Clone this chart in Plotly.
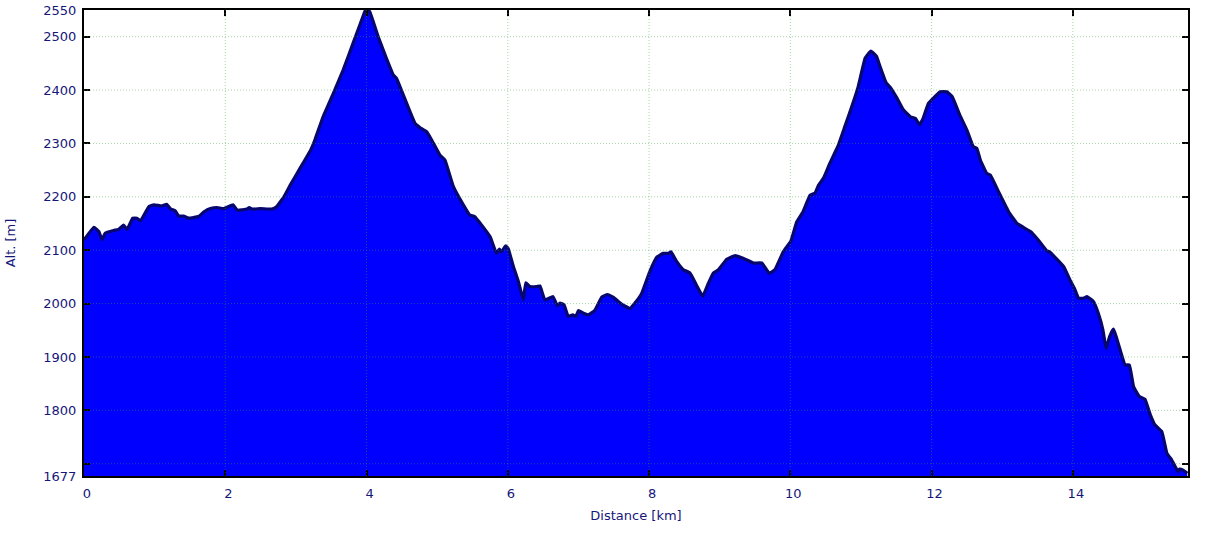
import plotly.graph_objects as go

distance_km = [0.00, 0.14, 0.21, 0.255, 0.30, 0.42, 0.49, 0.56, 0.61, 0.69, 0.75, 0.80, 0.92, 0.99,
               1.10, 1.17, 1.23, 1.29, 1.34, 1.41, 1.48, 1.62, 1.70, 1.79, 1.88, 1.98, 2.11, 2.17,
               2.31, 2.34, 2.38, 2.50, 2.66, 2.73, 2.83, 2.92, 3.07, 3.21, 3.27, 3.385, 3.53, 3.67,
               3.81, 3.905, 3.975, 4.00, 4.045, 4.165, 4.28, 4.38, 4.425, 4.52, 4.685, 4.755, 4.85,
               4.92, 5.04, 5.11, 5.23, 5.37, 5.46, 5.53, 5.63, 5.75, 5.84, 5.88, 5.91, 5.97, 6.005,
               6.08, 6.15, 6.22, 6.255, 6.31, 6.41, 6.455, 6.525, 6.64, 6.70, 6.74, 6.795, 6.855,
               6.92, 6.965, 7.00, 7.07, 7.14, 7.23, 7.33, 7.41, 7.49, 7.61, 7.73, 7.80, 7.895, 8.01,
               8.11, 8.20, 8.27, 8.31, 8.39, 8.48, 8.58, 8.67, 8.76, 8.84, 8.91, 8.98, 9.10, 9.22,
               9.33, 9.48, 9.595, 9.70, 9.78, 9.90, 10.01, 10.09, 10.18, 10.28, 10.35, 10.40, 10.47,
               10.56, 10.68, 10.77, 10.87, 10.96, 11.06, 11.14, 11.22, 11.27, 11.355, 11.41, 11.51,
               11.60, 11.70, 11.77, 11.83, 11.88, 11.955, 12.05, 12.12, 12.215, 12.29, 12.40, 12.50,
               12.59, 12.64, 12.69, 12.78, 12.83, 12.95, 13.09, 13.21, 13.40, 13.51, 13.63, 13.67,
               13.87, 13.96, 14.03, 14.08, 14.15, 14.20, 14.29, 14.36, 14.425, 14.47, 14.52, 14.575,
               14.62, 14.67, 14.74, 14.80, 14.86, 14.94, 15.02, 15.09, 15.16, 15.26, 15.33, 15.40,
               15.49, 15.51, 15.56, 15.62]

altitude_m = [2119, 2143, 2135, 2120, 2132, 2137, 2139, 2147, 2139, 2160, 2160, 2155, 2182, 2185,
              2183, 2186, 2177, 2174, 2164, 2164, 2160, 2163, 2172, 2178, 2180, 2178, 2185, 2175,
              2177, 2180, 2177, 2178, 2177, 2182, 2200, 2222, 2256, 2288, 2307, 2350, 2394, 2438,
              2488, 2522, 2547, 2552, 2547, 2500, 2460, 2428, 2422, 2391, 2338, 2330, 2322,
              2307, 2278, 2269, 2219, 2185, 2166, 2163, 2147, 2125, 2094, 2102, 2097, 2108, 2103,
              2069, 2041, 2007, 2039, 2032, 2032, 2033, 2007, 2013, 1996, 2001, 1998, 1976,
              1979, 1976, 1987, 1982, 1979, 1987, 2012, 2017, 2012, 1999, 1991, 2001, 2019, 2060,
              2087, 2094, 2094, 2097, 2079, 2064, 2057, 2035, 2014, 2038, 2057, 2063, 2083, 2090,
              2085, 2076, 2076, 2057, 2063, 2097, 2118, 2153, 2172, 2203, 2207, 2222, 2235,
              2263, 2297, 2331, 2369, 2406, 2460, 2473, 2463, 2444, 2414, 2406, 2385,
              2363, 2350, 2347, 2335, 2347, 2375, 2388, 2397, 2397, 2388, 2353, 2325,
              2294, 2291, 2269, 2244, 2241, 2209, 2172, 2150, 2135, 2119, 2099, 2097,
              2069, 2044, 2026, 2010, 2010, 2013, 2004, 1982, 1951, 1916, 1938, 1952,
              1935, 1913, 1885, 1885, 1844, 1826, 1821, 1794, 1773, 1760, 1720, 1707,
              1685, 1690, 1688, 1682]

x_ticks = [0, 2, 4, 6, 8, 10, 12, 14]
y_ticks = [1677, 1700, 1800, 1900, 2000, 2100, 2200, 2300, 2400, 2500, 2550]
y_ticktext = ["1677", "", "1800", "1900", "2000", "2100", "2200", "2300", "2400", "2500", "2550"]
x_range = [0, 15.63]
y_range = [1677, 2550]

label_color = "#16167a"
font_family = "DejaVu Sans"

fig = go.Figure()
fig.add_trace(go.Scatter(
    x=distance_km, y=altitude_m, mode="lines",
    line=dict(color="#07076e", width=3.2, shape="spline", smoothing=0.3),
    fill="tozeroy", fillcolor="#0000ff",
    hoverinfo="x+y", showlegend=False,
))

grid_color = "rgba(60,160,60,0.45)"
shapes = []
for v in y_ticks:
    if y_range[0] < v < y_range[1]:
        shapes.append(dict(type="line", xref="paper", yref="y", x0=0, x1=1, y0=v, y1=v,
                           line=dict(color=grid_color, width=1, dash="1px,2px"), layer="above"))
for v in x_ticks:
    if x_range[0] < v < x_range[1]:
        shapes.append(dict(type="line", xref="x", yref="paper", x0=v, x1=v, y0=0, y1=1,
                           line=dict(color=grid_color, width=1, dash="1px,2px"), layer="above"))

fig.update_layout(
    width=1226, height=534,
    margin=dict(l=84, r=38, t=10, b=58, autoexpand=False),
    paper_bgcolor="white", plot_bgcolor="white",
    font=dict(family=font_family, size=13, color=label_color),
    shapes=shapes,
    xaxis=dict(
        range=x_range, tickvals=x_ticks, ticktext=[str(t) for t in x_ticks],
        showgrid=False, zeroline=False, automargin=False,
        showline=True, linecolor="black", linewidth=2, mirror="ticks",
        ticks="inside", ticklen=6, tickwidth=2, tickcolor="black",
        ticklabelshift=3, ticklabelstandoff=4,
        tickfont=dict(family=font_family, size=13, color=label_color),
        title=dict(text="Distance [km]", font=dict(family=font_family, size=13, color=label_color),
                   standoff=11),
        layer="above traces",
    ),
    yaxis=dict(
        range=y_range, tickvals=y_ticks, ticktext=y_ticktext,
        showgrid=False, zeroline=False, automargin=False,
        showline=True, linecolor="black", linewidth=2, mirror="ticks",
        ticks="inside", ticklen=6, tickwidth=2, tickcolor="black",
        ticklabelstandoff=3,
        tickfont=dict(family=font_family, size=13, color=label_color),
        title=dict(text="Alt. [m]", font=dict(family=font_family, size=13, color=label_color),
                   standoff=25),
        layer="above traces",
    ),
)

fig.write_html("out.html", config={"displayModeBar": False},
               post_script="document.body.style.margin='0';")
